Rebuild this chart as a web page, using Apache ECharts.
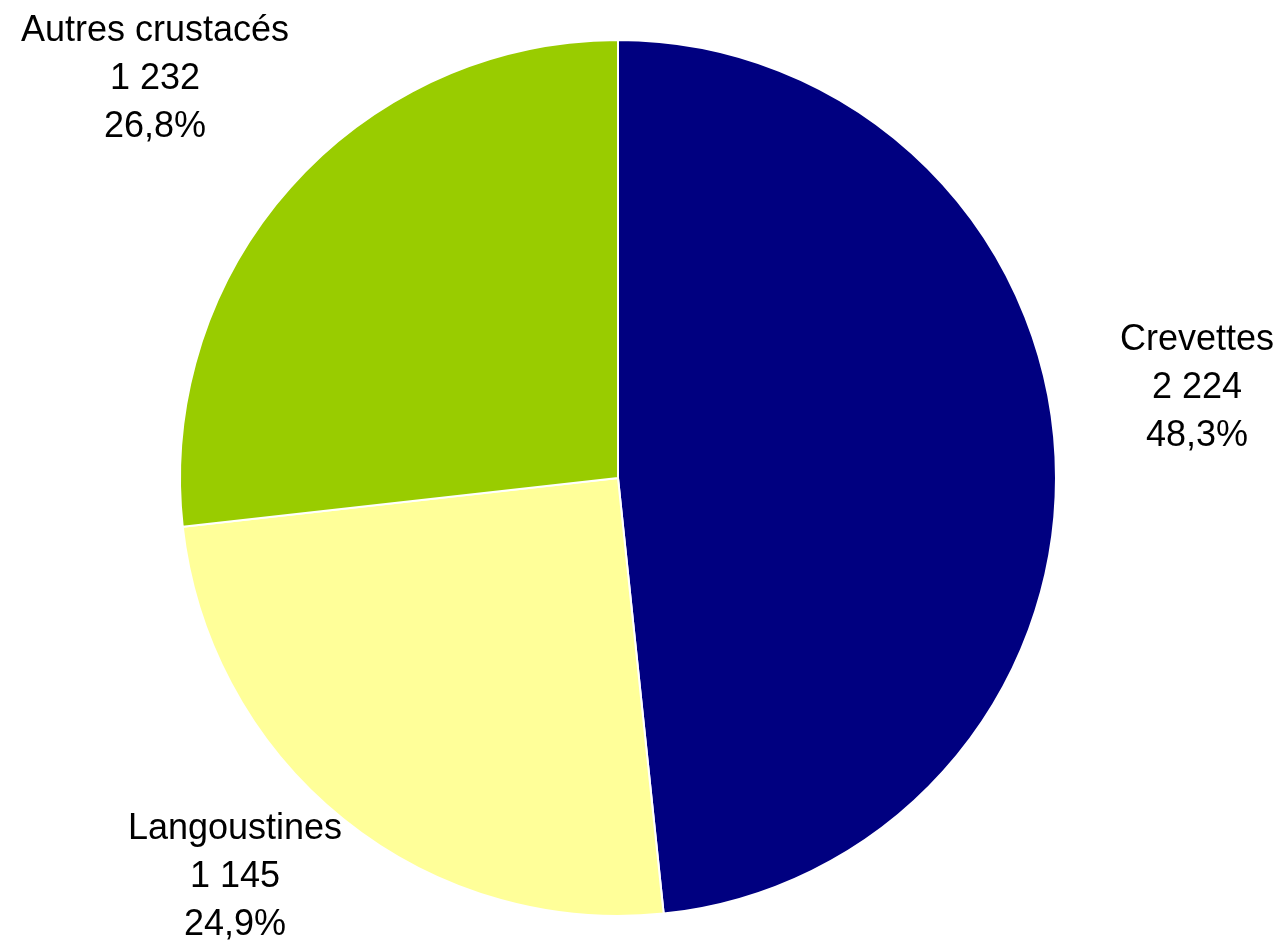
<!DOCTYPE html>
<html><head><meta charset="utf-8">
<script src="https://cdn.jsdelivr.net/npm/echarts@6/dist/echarts.min.js"></script>
<style>html,body{margin:0;padding:0;background:#fff}#c{width:1284px;height:942px}</style>
</head><body><div id="c"></div>
<script>
const categories = ['Crevettes', 'Langoustines', 'Autres crustacés'];
const values = [2224, 1145, 1232];
const colors = ['#000080', '#FFFF99', '#99CC00'];
const labelPos = [[1197, 388], [235, 877], [155, 79]];

function frNum(v) {
  return String(v).replace(/\B(?=(\d{3})+(?!\d))/g, ' ');
}
const chart = echarts.init(document.getElementById('c'));
chart.setOption({
  animation: false,
  backgroundColor: '#fff',
  series: [{
    type: 'pie',
    center: [618, 478],
    radius: [0, 438],
    startAngle: 90,
    clockwise: true,
    avoidLabelOverlap: false,
    data: categories.map((n, i) => ({ name: n, value: values[i], itemStyle: { color: colors[i] } })),
    itemStyle: { borderColor: '#fff', borderWidth: 2 },
    label: {
      show: true,
      position: 'outside',
      formatter: p => p.name + '\n' + frNum(p.value) + '\n' + p.percent.toFixed(1).replace('.', ',') + '%',
      fontFamily: 'Liberation Sans, Arial, sans-serif',
      fontSize: 36,
      lineHeight: 48,
      color: '#000',
      align: 'center'
    },
    labelLine: { show: false },
    labelLayout: p => ({ x: labelPos[p.dataIndex][0], y: labelPos[p.dataIndex][1], align: 'center', verticalAlign: 'middle' })
  }]
});
</script></body></html>
